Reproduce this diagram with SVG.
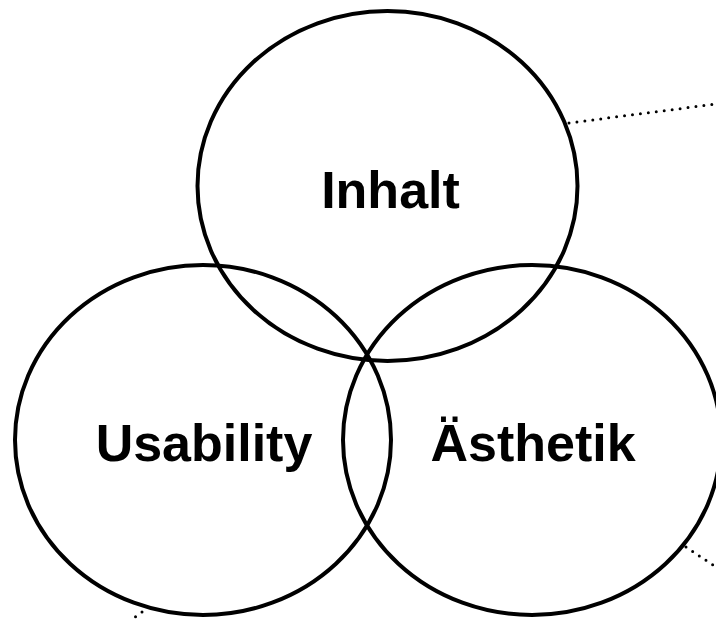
<svg xmlns="http://www.w3.org/2000/svg" width="716" height="619" viewBox="0 0 716 619">
<style>
.c{fill:none;stroke:#000;stroke-width:4}
.t{font-family:"Liberation Sans",Arial,sans-serif;font-weight:bold;font-size:52px;text-anchor:middle;fill:#000}
.d{fill:none;stroke:#000;stroke-width:3;stroke-linecap:round;stroke-dasharray:0 8}
</style>
<rect width="716" height="619" fill="#fff"/>
<g id="connectors">
<line class="d" x1="569" y1="123" x2="716" y2="104"/>
<line class="d" x1="686" y1="547" x2="716" y2="567"/>
<line class="d" x1="142" y1="612" x2="131" y2="620"/>
</g>
<g id="inhalt">
<ellipse class="c" cx="387.5" cy="186" rx="190" ry="175"/>
<text class="t" x="390.5" y="208">Inhalt</text>
</g>
<g id="usability">
<ellipse class="c" cx="203" cy="440" rx="188" ry="175"/>
<text class="t" x="204" y="461">Usability</text>
</g>
<g id="aesthetik">
<ellipse class="c" cx="532" cy="440" rx="189" ry="175"/>
<text class="t" x="533" y="461">Ästhetik</text>
</g>
</svg>
